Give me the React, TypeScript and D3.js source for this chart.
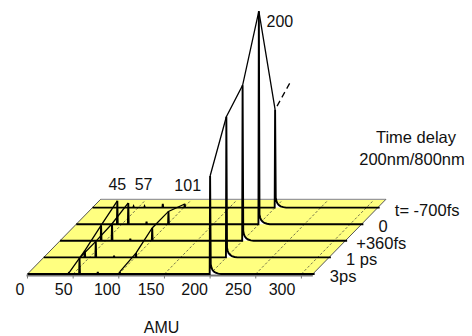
import React from "react";
import * as d3 from "d3";

// ---- data ----
// time delays, front row -> back row
const delays = ["3ps", "1 ps", "+360fs", "0", "t= -700fs"];
// fragment masses (AMU)
const masses = [45, 57, 77, 101, 200];
// peak intensity (arb. units, 200 at t=0 -> 100), per mass, front -> back
const int45 = [0.3, 3.2, 7.2, 11, 0.5];
const int57 = [7.5, 7.5, 8, 10, 0.5];
const int77 = [1, 0.8, 1, 1.2, 1.8];
const int101 = [1, 2, 6, 6, 1.7];
const int200 = [46, 66, 73, 100, 46];
const intensities = [int45, int57, int77, int101, int200];
const labeledMasses = [45, 57, 101, 200];
const ridgeRows = [4, 4, 5, 5]; // rows joined by each ridge line
const projected200 = 52; // dashed extrapolation of the 200 ridge
const tickValues = [0, 50, 100, 150, 200, 250, 300];
const gridMasses = [50, 100, 150, 200, 250, 300];
const massMax = 312.5;

const W = 472;
const H = 336;
const FONT = "'Liberation Sans', Arial, Helvetica, sans-serif";

export default function App() {
  const xMass = d3.scaleLinear().domain([0, 300]).range([27.5, 301.4]);
  const depthX = d3.scaleLinear().domain([0, 4]).range([0, 65]);
  const depthY = d3.scaleLinear().domain([0, 4]).range([274, 207.6]);
  const yInt = d3.scaleLinear().domain([0, 100]).range([0, 213]);
  const tickLabelX = d3.scaleLinear().domain([0, 300]).range([20, 282]);

  const px = (m: number, d: number) => xMass(m) + depthX(d);
  const py = (d: number, h: number) => depthY(d) - yInt(h);

  const floorBack = 4.5;
  const floor = [
    [px(0, 0), py(0, 0)],
    [px(massMax, 0), py(0, 0)],
    [px(massMax, floorBack), py(floorBack, 0)],
    [px(0, floorBack), py(floorBack, 0)],
  ];
  const floorPath = "M" + floor.map((p) => p.join(",")).join("L") + "Z";

  // tail shape after the big peak (rendering style): [dm, level]
  const tail: [number, number][] = [
    [0.7, 4.6], [1.5, 3.0], [2.5, 2.0], [4, 1.2], [6, 0.6], [9, 0.2], [12, 0],
  ];

  const rows = delays.map((lab, d) => {
    const pts: [number, number][] = [[0, 0]];
    masses.forEach((m, i) => {
      const h = intensities[i][d];
      pts.push([m - 0.45, 0], [m, h]);
      if (m === 200) {
        tail.forEach(([dm, v]) => pts.push([m + dm, v]));
      } else {
        pts.push([m + 0.45, 0]);
      }
    });
    pts.push([massMax + 2, 0]);
    return { lab, d, pts };
  });

  const line = (d: number) =>
    d3.line<[number, number]>().x((p) => px(p[0], d)).y((p) => py(d, p[1]));
  const area = (d: number) =>
    d3
      .area<[number, number]>()
      .x((p) => px(p[0], d))
      .y0(py(d, 0))
      .y1((p) => py(d, p[1]));

  const ridge = (m: number, n = 5) => {
    const i = masses.indexOf(m);
    return intensities[i]
      .slice(0, n)
      .map((h, d) => [px(m, d), py(d, h)] as [number, number]);
  };

  const r200 = ridge(200);
  const last = r200[4];
  const proj: [number, number] = [px(200, 5), py(5, projected200)];
  const dashStart: [number, number] = [
    last[0] + (proj[0] - last[0]) * 0.12,
    last[1] + (proj[1] - last[1]) * 0.12,
  ];

  const peakLabels = [
    { t: "45", x: px(45, 3), y: py(floorBack, 0) - 9 },
    { t: "57", x: px(57, 4) - 1, y: py(floorBack, 0) - 9 },
    { t: "101", x: px(101, 4) + 3, y: py(floorBack, 0) - 8 },
    { t: "200", x: px(200, 3) + 21, y: py(3, 100) + 16 },
  ];

  return (
    <svg width={W} height={H} style={{ position: "absolute", left: 0, top: 0 }} fontFamily={FONT}>
      <rect width={W} height={H} fill="#fff" />
      {/* floor */}
      <path d={floorPath} fill="#ffff80" stroke="none" />
      {gridMasses.map((m) => (
        <line
          key={m}
          x1={px(m, 0)}
          y1={py(0, 0)}
          x2={px(m, floorBack)}
          y2={py(floorBack, 0)}
          stroke="#333"
          strokeWidth={0.7}
          strokeDasharray="2.5,2"
        />
      ))}
      <line x1={floor[3][0]} y1={floor[3][1]} x2={floor[2][0]} y2={floor[2][1]} stroke="#999" strokeWidth={1.2} />
      <line x1={floor[0][0]} y1={floor[0][1]} x2={floor[3][0]} y2={floor[3][1]} stroke="#555" strokeWidth={1} />
      <line x1={floor[1][0]} y1={floor[1][1]} x2={floor[2][0]} y2={floor[2][1]} stroke="#555" strokeWidth={1} />
      {/* axis */}
      <line x1={floor[0][0] - 1} y1={275.5} x2={floor[1][0]} y2={275.5} stroke="#777" strokeWidth={2} />
      {tickValues.map((t) => (
        <line key={t} x1={xMass(t)} x2={xMass(t)} y1={276} y2={278.5} stroke="#777" strokeWidth={1} />
      ))}
      {tickValues.map((t) => (
        <text key={t} x={tickLabelX(t)} y={295} fontSize={16} textAnchor="middle" fill="#111">
          {t}
        </text>
      ))}
      <text x={161.5} y={333} fontSize={16} textAnchor="middle" fill="#111">AMU</text>

      {/* traces back to front */}
      {[...rows].reverse().map((r) => (
        <g key={r.lab}>
          <path d={area(r.d)(r.pts) || ""} fill="#fff" stroke="none" />
          <path d={line(r.d)(r.pts) || ""} fill="none" stroke="#000" strokeWidth={1.9} strokeLinejoin="miter" />
        </g>
      ))}

      {/* ridge lines */}
      {labeledMasses.map((m, i) => (
        <path key={m} d={d3.line()(ridge(m, ridgeRows[i])) || ""} fill="none" stroke="#000" strokeWidth={1.3} />
      ))}
      <line x1={dashStart[0]} y1={dashStart[1]} x2={proj[0]} y2={proj[1]} stroke="#000" strokeWidth={1.3} strokeDasharray="6,4" />

      {/* labels */}
      {peakLabels.map((l) => (
        <text key={l.t} x={l.x} y={l.y} fontSize={16} textAnchor="middle" fill="#111">
          {l.t}
        </text>
      ))}
      {rows.map((r) => (
        <text key={r.lab} x={px(massMax, r.d) + (r.lab === "+360fs" ? 11 : 17)} y={depthY(r.d) + 8} fontSize={16.5} fill="#111">
          {r.lab}
        </text>
      ))}
      <text x={416} y={143} fontSize={16.5} textAnchor="middle" fill="#111">Time delay</text>
      <text x={412} y={165} fontSize={16.5} textAnchor="middle" fill="#111">200nm/800nm</text>
    </svg>
  );
}
